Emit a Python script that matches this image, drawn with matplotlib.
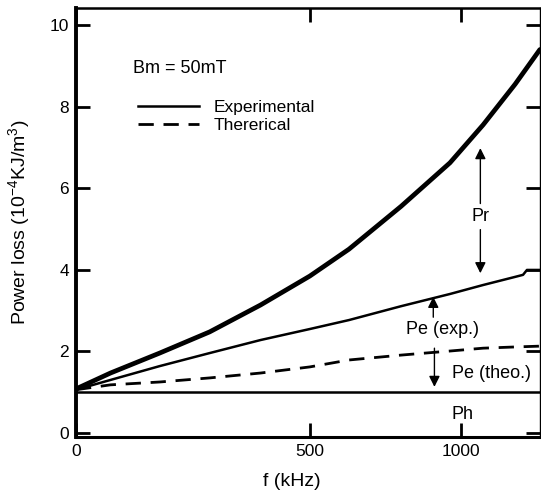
import numpy as np
import matplotlib
matplotlib.use('Agg')
import matplotlib.pyplot as plt

plt.rcParams['font.family'] = ['Liberation Sans', 'DejaVu Sans']
plt.rcParams['mathtext.fontset'] = 'custom'
plt.rcParams['mathtext.rm'] = 'Liberation Sans'

# values (f in kHz, loss in 10^-4 KJ/m^3)
freq = [0, 35, 120, 230, 360, 500, 620, 790, 960, 1080, 1200, 1295]
p_total = [1.07, 1.46, 1.95, 2.47, 3.13, 3.84, 4.5, 5.55, 6.62, 7.55, 8.55, 9.4]
freq_exp = [0, 35, 120, 230, 360, 500, 620, 790, 960, 1080, 1200, 1230, 1245, 1295]
p_e_exp = [1.05, 1.29, 1.63, 1.95, 2.27, 2.54, 2.76, 3.10, 3.40, 3.62, 3.82, 3.87, 3.99, 3.99]
p_e_theo = [1.05, 1.17, 1.24, 1.34, 1.46, 1.61, 1.78, 1.90, 2.00, 2.07, 2.10, 2.12]
freq_h = [0, 1295]
p_h = [1.0, 1.0]

x_ticks = [0, 500, 1000]
y_ticks = [0, 2, 4, 6, 8, 10]

# the printed frequency axis is compressed, roughly like f**0.72
def fwd(x):
    x = np.asarray(x, dtype=float)
    return np.sign(x) * np.abs(x) ** 0.72

def inv(u):
    u = np.asarray(u, dtype=float)
    return np.sign(u) * np.abs(u) ** (1 / 0.72)

fig = plt.figure(figsize=(5.41, 4.98), dpi=100)
ax = fig.add_axes([0.1405, 0.1225, 0.8575, 0.8615])
ax.set_xscale('function', functions=(fwd, inv))

ax.plot(freq, p_total, color='black', lw=3.4, solid_capstyle='round')
ax.plot(freq_exp, p_e_exp, color='black', lw=1.8, label='Experimental')
ax.plot(freq, p_e_theo, color='black', lw=2.0, dashes=(5.5, 3.5), label='Thererical')
ax.plot(freq_h, p_h, color='black', lw=1.8)

ax.set_xlim(0, 1295)
ax.set_ylim(-0.11, 10.42)
ax.set_xticks(x_ticks)
ax.set_yticks(y_ticks)
ax.tick_params(axis='both', direction='in', length=10, width=2, labelsize=12.5, pad=5,
               top=True, right=True)

for side, w in [('left', 2.8), ('bottom', 2.2), ('top', 1.8), ('right', 1.0)]:
    ax.spines[side].set_linewidth(w)

ax.set_xlabel('f (kHz)', fontsize=14)
ax.xaxis.set_label_coords(0.466, -0.085)
ax.set_ylabel('Power loss (10$^{-4}$KJ/m$^3$)', fontsize=14)
ax.yaxis.set_label_coords(-0.092, 0.5)

ax.text(0.123, 0.86, 'Bm = 50mT', transform=ax.transAxes, fontsize=13, va='center')
ax.legend(loc='upper left', bbox_to_anchor=(0.134, 0.786), frameon=False, fontsize=12.5,
          handlelength=3.5, handletextpad=0.85, labelspacing=0.15, borderpad=0,
          borderaxespad=0)

arrow = dict(arrowstyle='-|>', color='black', lw=1.0, mutation_scale=16, shrinkA=0, shrinkB=0)

ax.text(1070, 5.29, 'Pr', fontsize=13, ha='center', va='center')
ax.annotate('', xy=(1070, 6.98), xytext=(1070, 5.62), arrowprops=arrow)
ax.annotate('', xy=(1070, 3.91), xytext=(1070, 4.98), arrowprops=arrow)

ax.text(935, 2.52, 'Pe (exp.)', fontsize=13, ha='center', va='center')
ax.annotate('', xy=(901, 3.33), xytext=(901, 2.83), arrowprops=arrow)

ax.text(967, 1.46, 'Pe (theo.)', fontsize=13, ha='left', va='center')
ax.annotate('', xy=(905, 1.12), xytext=(905, 2.07), arrowprops=arrow)

ax.text(1006, 0.43, 'Ph', fontsize=13, ha='center', va='center')

fig.savefig('out.png', dpi=100)
